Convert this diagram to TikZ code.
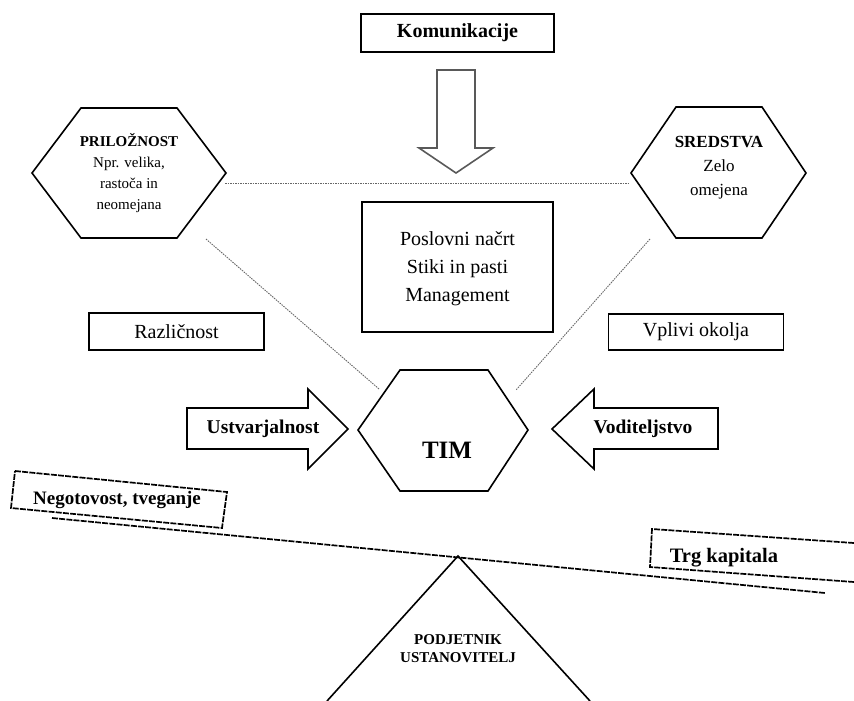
\documentclass[tikz,border=0pt]{standalone}
\usepackage{fontspec}
\setmainfont{Liberation Serif}
\begin{document}
\begin{tikzpicture}[x=1pt,y=-1pt,
  rbox/.style={draw, line width=1.8pt, rectangle, inner sep=0pt},
  hexline/.style={draw, line width=1.6pt, line join=miter},
  arrline/.style={draw, line width=1.6pt, line join=miter},
  guide/.style={draw=black!60, line width=0.9pt, dash pattern=on 1.5pt off 1pt},
  beamline/.style={draw, line width=1.7pt, dash pattern=on 6pt off 1.2pt},
  f20/.style={font=\fontsize{20}{24}\selectfont},
  f20b/.style={font=\fontsize{20}{24}\selectfont\bfseries},
  lbl/.style={inner sep=0pt, align=center}]
\useasboundingbox (0,0) rectangle (854,701);

% Komunikacije box and arrow
\node[rbox, f20b, minimum width=193pt, minimum height=38pt] (kom) at (457.5,33) {Komunikacije};
\draw[arrline, draw=black!65] (437,70) -- (475,70) -- (475,148) -- (493,148) -- (456,173) -- (419,148) -- (437,148) -- cycle;
\coordinate (komtip) at (456,173);

% central box
\node[rbox, minimum width=191pt, minimum height=130pt] (plan) at (457.5,267) {};
\node[lbl, font=\fontsize{20}{28}\selectfont] (plantxt) at (457.5,269) {Poslovni načrt\\Stiki in pasti\\Management};

% side boxes
\node[rbox, f20, minimum width=175pt, minimum height=37pt] (raz) at (176.5,331.5) {Različnost};
\node[rbox, f20, minimum width=175pt, minimum height=36pt] (vpl) at (696,332) {Vplivi okolja};

% PRILOZNOST hexagon
\draw[hexline] (32,173) -- (81,108) -- (177,108) -- (226,173) -- (177,238) -- (81,238) -- cycle;
\node[lbl, font=\fontsize{15}{21}\selectfont] (pri) at (129,173) {\textbf{PRILOŽNOST}\\Npr. velika,\\rastoča in\\neomejana};
% SREDSTVA hexagon
\draw[hexline] (631,173) -- (676,107) -- (762,107) -- (806,173) -- (762,238) -- (676,238) -- cycle;
\node[lbl, font=\fontsize{17}{24}\selectfont] (sre) at (719,168) {\textbf{SREDSTVA}\\Zelo\\omejena};
% TIM hexagon
\draw[hexline] (358,430) -- (400,370) -- (488,370) -- (528,430) -- (488,491) -- (400,491) -- cycle;
\node[lbl, font=\fontsize{25}{30}\selectfont\bfseries] (tim) at (447,450) {TIM};

% guide lines
\coordinate (priR) at (225,183);
\coordinate (sreL) at (630,183);
\coordinate (priB) at (206,239);
\coordinate (sreB) at (650,239);
\coordinate (timL) at (379,389);
\coordinate (timR) at (516,390);
\draw[guide] (priR) -- (sreL);
\draw[guide] (priB) -- (timL);
\draw[guide] (sreB) -- (timR);

% Ustvarjalnost arrow
\draw[arrline] (187,408) -- (308,408) -- (308,389) -- (348,429) -- (308,469) -- (308,449) -- (187,449) -- cycle;
\node[lbl, font=\fontsize{19.5}{24}\selectfont\bfseries] (ust) at (263,429) {Ustvarjalnost};
% Voditeljstvo arrow
\draw[arrline] (718,408) -- (594,408) -- (594,389) -- (552,429) -- (594,469) -- (594,449) -- (718,449) -- cycle;
\node[lbl, font=\fontsize{19.5}{24}\selectfont\bfseries] (vod) at (643,429) {Voditeljstvo};

% seesaw
\coordinate (beamL) at (52,518);
\coordinate (beamR) at (825,593);
\draw[beamline] (beamL) -- (beamR);
\draw[beamline] (15,471) -- (227,492) -- (222,528) -- (11,508) -- cycle;
\node[lbl, font=\fontsize{19}{24}\selectfont\bfseries] (neg) at (117,500) {Negotovost, tveganje};
\draw[beamline] (854,543) -- (652,529) -- (650,567) -- (854,582);
\node[lbl, font=\fontsize{20.5}{24}\selectfont\bfseries] (trg) at (724,558) {Trg kapitala};

% triangle
\coordinate (apex) at (458,556);
\draw[line width=1.6pt] (327,701) -- (apex) -- (590,701);
\node[lbl, font=\fontsize{15}{18}\selectfont\bfseries] (pod) at (458,649) {PODJETNIK\\USTANOVITELJ};
\end{tikzpicture}
\end{document}
